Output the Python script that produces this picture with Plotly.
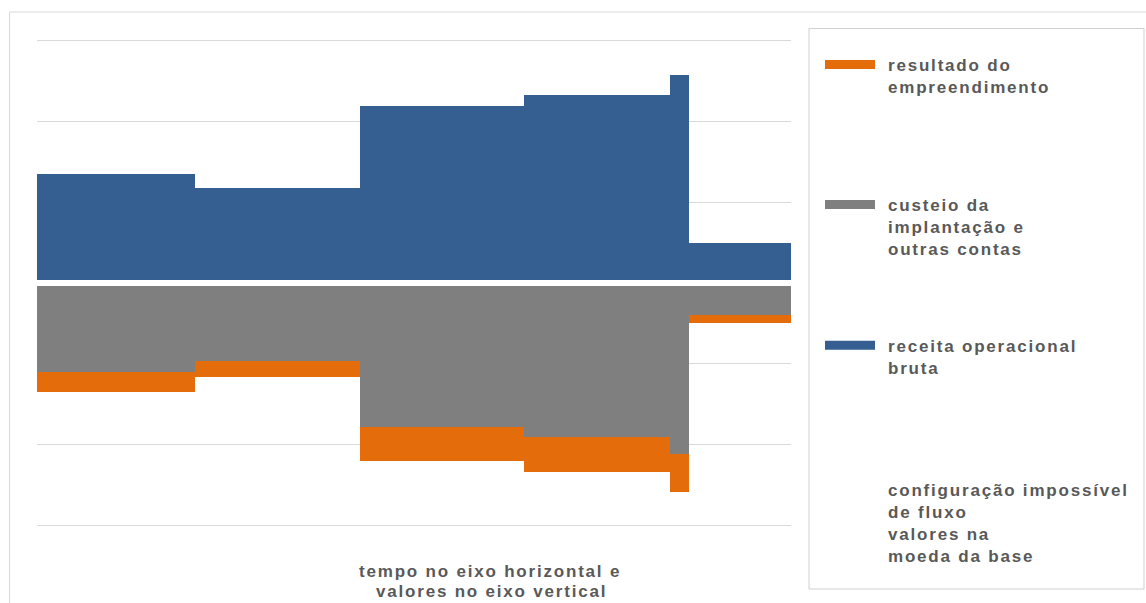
import plotly.graph_objects as go

# ---- data ----
time_edges = [0, 9.62, 19.68, 29.69, 38.6, 39.76, 46]
receita = [1.346, 1.169, 2.19, 2.325, 2.57, 0.497]
custeio = [-1.095, -0.963, -1.774, -1.898, -2.115, -0.395]
resultado = [-0.255, -0.194, -0.424, -0.433, -0.461, -0.103]

series_names = ["receita operacional<br>bruta",
                "custeio da<br>implantação e<br>outras contas",
                "resultado do<br>empreendimento"]
note_text = "configuração impossível<br>de fluxo<br>valores na<br>moeda da base"
axis_title = ["tempo no eixo horizontal e", "valores no eixo vertical"]

BLUE, GRAY, ORANGE = "#365F91", "#7F7F7F", "#E46C0A"
TXT = "#595959"
FONT = "Liberation Sans, Arial, sans-serif"

centers = [(a + b) / 2 for a, b in zip(time_edges[:-1], time_edges[1:])]
widths = [b - a for a, b in zip(time_edges[:-1], time_edges[1:])]

fig = go.Figure()
fig.add_bar(x=centers, y=receita, width=widths, marker=dict(color=BLUE, line=dict(width=0)), showlegend=False)
fig.add_bar(x=centers, y=custeio, width=widths, marker=dict(color=GRAY, line=dict(width=0)), showlegend=False)
fig.add_bar(x=centers, y=resultado, width=widths, marker=dict(color=ORANGE, line=dict(width=0)), showlegend=False)

# plot area geometry (pixels)
L, T, R, B = 37, 32, 791, 534
W, H = 1146, 603
PW, PH = R - L, B - T

def px(p):
    return (p - L) / PW

def py(p):
    return (B - p) / PH

shapes = []
# zero separator
shapes.append(dict(type="line", xref="x", yref="y", x0=time_edges[0], x1=time_edges[-1], y0=0, y1=0,
                   line=dict(color="white", width=6), layer="above"))
# outer chart border
shapes.append(dict(type="rect", xref="paper", yref="paper", x0=px(9.5), x1=px(1160), y0=py(12), y1=py(620),
                   line=dict(color="#D9D9D9", width=1), layer="below"))
# legend box
shapes.append(dict(type="rect", xref="paper", yref="paper", x0=px(809), x1=px(1144), y0=py(28.5), y1=py(589),
                   line=dict(color="#CFCFCF", width=1), layer="below"))

annotations = []
legend_items = [(ORANGE, 64.5, series_names[2], 54.5),
                (GRAY, 204.5, series_names[1], 193.5),
                (BLUE, 345.3, series_names[0], 334.5),
                (None, None, note_text, 478.5)]
for col, yc, txt, ytop in legend_items:
    if col:
        shapes.append(dict(type="rect", xref="paper", yref="paper", x0=px(825), x1=px(875),
                           y0=py(yc - 4.5), y1=py(yc + 4.5), fillcolor=col, line=dict(width=0)))
    annotations.append(dict(xref="paper", yref="paper", x=px(885.5), y=py(ytop), xanchor="left", yanchor="top",
                            align="left", text=txt, showarrow=False,
                            font=dict(family=FONT, size=17, color=TXT, weight="bold")))

annotations.append(dict(xref="paper", yref="paper", x=px(357), y=py(560), xanchor="left", yanchor="top",
                        align="left", text=axis_title[0], showarrow=False,
                        font=dict(family=FONT, size=17, color=TXT, weight="bold")))
annotations.append(dict(xref="paper", yref="paper", x=px(374), y=py(580), xanchor="left", yanchor="top",
                        align="left", text=axis_title[1], showarrow=False,
                        font=dict(family=FONT, size=17, color=TXT, weight="bold")))

fig.update_layout(
    width=W, height=H,
    margin=dict(l=L, r=W - R, t=T, b=H - B, pad=0),
    paper_bgcolor="white", plot_bgcolor="white",
    barmode="relative", bargap=0,
    showlegend=False,
    shapes=shapes, annotations=annotations,
    xaxis=dict(range=[time_edges[0], time_edges[-1]], showgrid=False, zeroline=False,
               showticklabels=False, showline=False, ticks=""),
    yaxis=dict(range=[-3.1, 3.1], tickvals=[-3, -2, -1, 1, 2, 3], showgrid=True, gridcolor="#D9D9D9", gridwidth=1,
               zeroline=False, showticklabels=False, showline=False, ticks=""),
)

post = """
document.querySelectorAll('.annotation-text').forEach(function(e){e.style.letterSpacing='1.8px';});
"""
fig.write_html("out.html", post_script=post)
